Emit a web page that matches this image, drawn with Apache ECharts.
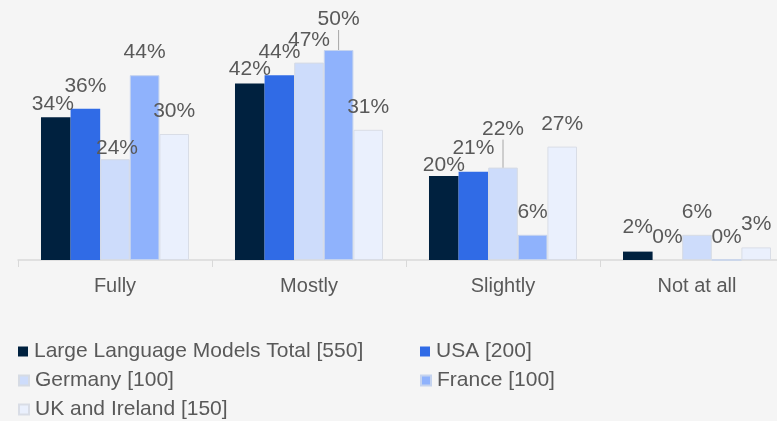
<!DOCTYPE html>
<html>
<head>
<meta charset="utf-8">
<script src="https://cdn.jsdelivr.net/npm/echarts@6/dist/echarts.min.js"></script>
<style>
html,body{margin:0;padding:0;background:#f5f5f5;}
#c{width:777px;height:421px;}
</style>
</head>
<body>
<div id="c"></div>
<script>
const categories = ['Fully', 'Mostly', 'Slightly', 'Not at all'];
const seriesNames = ['Large Language Models Total [550]', 'USA [200]', 'Germany [100]', 'France [100]', 'UK and Ireland [150]'];
const totalValues = [34, 42, 20, 2];
const usaValues = [36, 44, 21, 0];
const germanyValues = [24, 47, 22, 6];
const franceValues = [44, 50, 6, 0];
const ukValues = [30, 31, 27, 3];

const colors = ['#00213f', '#306be6', '#cddcfb', '#8fb2fc', '#eaf0fd'];
const borders = [null, null, '#d6dbe4', '#c5d3ee', '#d9dde6'];
// label nudges [dx, dy] per series/category (style only)
const nudges = [
  [[-3, 10], [0, 8], [0, 12], [0, -2]],
  [[0, 0], [0, 0], [0, -1], [0, 0]],
  [[2, 12], [0, 0], [0, -16], [0, 0]],
  [[0, 0], [0, -8], [0, 0], [0, 0]],
  [[0, 0], [0, 0], [0, 0], [0, -1]]
];
// labels drawn with a leader line: [seriesIndex, dataIndex]
const leaders = [[3, 1], [2, 2]];

const allValues = [totalValues, usaValues, germanyValues, franceValues, ukValues];
const FONT = 'Liberation Sans, Arial, sans-serif';

const series = allValues.map((vals, si) => ({
  name: seriesNames[si],
  type: 'bar',
  barGap: '0%',
  barCategoryGap: '23.7%',
  itemStyle: borders[si] ? { color: colors[si], borderColor: borders[si], borderWidth: 1 } : { color: colors[si] },
  label: {
    show: true,
    position: 'top',
    distance: 12,
    formatter: '{c}%',
    fontFamily: FONT,
    fontSize: 21,
    color: '#595959'
  },
  labelLine: { show: false, lineStyle: { color: '#a6a6a6', width: 1 } },
  labelLayout: function (p) {
    const n = nudges[si][p.dataIndex];
    return { dx: n[0], dy: n[1] };
  },
  data: vals.map((v, di) => {
    const item = { value: v };
    for (const l of leaders) {
      if (l[0] === si && l[1] === di) item.labelLine = { show: true, lineStyle: { color: '#a6a6a6', width: 1 } };
    }
    return item;
  })
}));

const legendPos = [[18, 341], [420, 341], [18, 370], [420, 370], [18, 399]];
const legends = seriesNames.map((n, i) => ({
  data: [n],
  left: legendPos[i][0],
  top: legendPos[i][1],
  icon: 'rect',
  itemWidth: 10,
  itemHeight: 10,
  itemGap: 0,
  padding: 0,
  selectedMode: false,
  textStyle: { fontFamily: FONT, fontSize: 21, color: '#595959', padding: [0, 0, 0, 1] }
}));

const chart = echarts.init(document.getElementById('c'), null, { renderer: 'canvas' });
chart.setOption({
  backgroundColor: '#f5f5f5',
  animation: false,
  color: colors,
  legend: legends,
  grid: { left: 18, top: 8, width: 776, height: 252, containLabel: false, outerBoundsMode: 'none' },
  xAxis: {
    type: 'category',
    data: categories,
    axisLine: { lineStyle: { color: '#d9d9d9', width: 1.5 } },
    axisTick: { show: true, length: 7, lineStyle: { color: '#d9d9d9' } },
    axisLabel: { fontFamily: FONT, fontSize: 20, color: '#595959', margin: 16 }
  },
  yAxis: {
    type: 'value',
    min: 0,
    max: 60,
    show: false,
    splitLine: { show: false }
  },
  series: series
});
</script>
</body>
</html>
